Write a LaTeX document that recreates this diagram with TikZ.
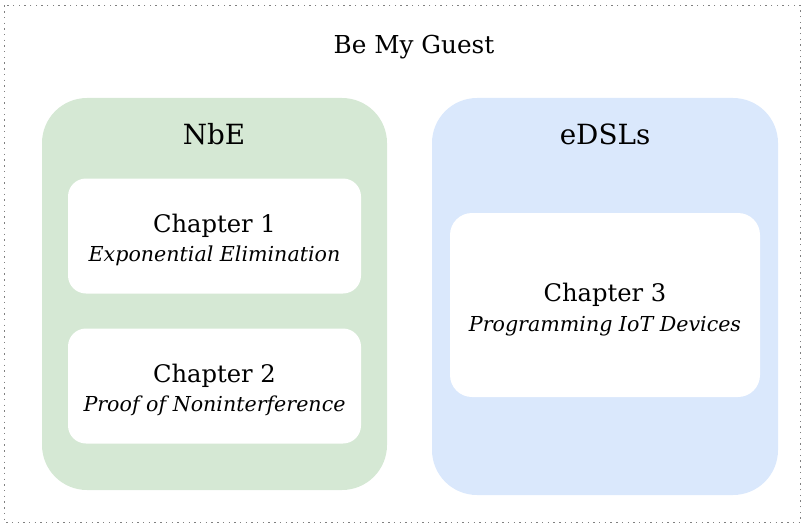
\documentclass[tikz,border=0pt]{standalone}
\usepackage{fontspec}
\setmainfont{DejaVu Serif}
\definecolor{ngreen}{HTML}{D5E8D4}
\definecolor{nblue}{HTML}{DAE8FC}
\begin{document}
\begin{tikzpicture}[x=1pt,y=-1pt,
  ttl/.style={anchor=base,inner sep=0pt,font=\fontsize{24.7}{28}\selectfont},
  grp/.style={anchor=base,inner sep=0pt,font=\fontsize{27.8}{31}\selectfont},
  chap/.style={anchor=base,inner sep=0pt,font=\fontsize{24.2}{28}\selectfont},
  sub/.style={anchor=base,inner sep=0pt,font=\itshape\fontsize{20.6}{24}\selectfont}]
\useasboundingbox (0,0) rectangle (802,524);
\draw[gray,line width=1.3pt,dash pattern=on 1.4pt off 4.3pt] (4.5,5.5) rectangle (800.5,522.5);
\node[ttl] (title) at (414,53.3) {Be My Guest};
% groups
\fill[ngreen,rounded corners=45pt] (42,98) rectangle (387,490);
\fill[nblue,rounded corners=45pt] (432,98) rectangle (778,495);
\node[grp] (nbe) at (214,144.3) {NbE};
\node[grp] (edsl) at (605,144.3) {eDSLs};
% chapter boxes
\fill[white,rounded corners=18pt] (68,178.5) rectangle (361,293.5);
\fill[white,rounded corners=18pt] (68,328.5) rectangle (361,443.5);
\fill[white,rounded corners=22pt] (450,213) rectangle (760,397);
\node[chap] (c1) at (214.5,232.3) {Chapter 1};
\node[sub] (s1) at (214.5,261.7) {Exponential Elimination};
\node[chap] (c2) at (214.5,382.3) {Chapter 2};
\node[sub] (s2) at (214.5,411.7) {Proof of Noninterference};
\node[chap] (c3) at (605,301.5) {Chapter 3};
\node[sub] (s3) at (605,331) {Programming IoT Devices};
\end{tikzpicture}
\end{document}
